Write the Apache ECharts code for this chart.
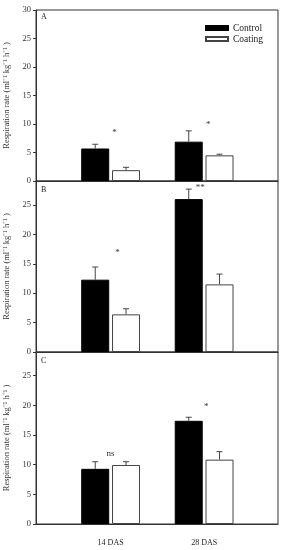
<!DOCTYPE html>
<html><head><meta charset="utf-8">
<script src="https://cdn.jsdelivr.net/npm/echarts@6/dist/echarts.min.js"></script>
<style>html,body{margin:0;padding:0;background:#fff}#c{width:286px;height:550px}</style>
</head><body><div id="c"></div>
<script>
// ---- data ----
const categories = ['14 DAS', '28 DAS'];
const seriesNames = ['Control', 'Coating'];
const panelLabels = ['A', 'B', 'C'];
const yTicksMax = [30, 29.08, 29.0];

const controlA = [5.7, 6.9];
const controlErrA = [0.75, 1.9];
const coatingA = [1.9, 4.5];
const coatingErrA = [0.5, 0.2];

const controlB = [12.3, 26.0];
const controlErrB = [2.15, 1.7];
const coatingB = [6.4, 11.5];
const coatingErrB = [0.95, 1.75];

const controlC = [9.3, 17.4];
const controlErrC = [1.2, 0.6];
const coatingC = [9.95, 10.85];
const coatingErrC = [0.55, 1.35];

const signifA = ['*', '*'];
const signifYA = [8.4, 9.9];
const signifB = ['*', '**'];
const signifYB = [16.9, 27.9];
const signifC = ['ns', '*'];
const signifYC = [11.8, 19.8];

// ---- layout / style ----
const FONT = 'Liberation Serif';
const AXC = '#333';
const grids = [
  {left: 36, right: 8, top: 10, height: 171},
  {left: 36, right: 8, top: 181, height: 171},
  {left: 36, right: 8, top: 352, height: 172}
];
const titleTops = [13, 186, 357];
const barW = 28, barGapPct = 0.1;
const half = (barW + barW * barGapPct) / 2;
const annoShift = [[4, 4], [7, -4], [0, 2]];

const panels = [
  {ctrl: controlA, ctrlE: controlErrA, coat: coatingA, coatE: coatingErrA, sig: signifA, sigY: signifYA},
  {ctrl: controlB, ctrlE: controlErrB, coat: coatingB, coatE: coatingErrB, sig: signifB, sigY: signifYB},
  {ctrl: controlC, ctrlE: controlErrC, coat: coatingC, coatE: coatingErrC, sig: signifC, sigY: signifYC}
];

const chart = echarts.init(document.getElementById('c'), null, {renderer: 'canvas'});

const xAxes = [], yAxes = [], series = [];
panels.forEach((p, i) => {
  xAxes.push({
    type: 'value', gridIndex: i, min: 0.202, max: 2.79,
    axisLine: {show: true, lineStyle: {color: AXC, width: 1}},
    axisTick: {show: false},
    splitLine: {show: false},
    axisLabel: i === 2 ? {
      show: true, customValues: [1, 2], margin: 15,
      formatter: v => categories[Math.round(v) - 1] || '',
      fontFamily: FONT, fontSize: 8, color: '#222'
    } : {show: false}
  });
  yAxes.push({
    type: 'value', gridIndex: i, min: 0, max: yTicksMax[i], interval: 5,
    axisLine: {show: true, lineStyle: {color: AXC, width: 1}},
    axisTick: {show: true, inside: false, length: 3, lineStyle: {color: AXC}},
    splitLine: {show: false},
    axisLabel: {fontFamily: FONT, fontSize: 8.5, color: '#333', margin: 5, showMaxLabel: i === 0},
    name: 'Respiration rate (ml\u207B\u00B9 kg\u207B\u00B9 h\u207B\u00B9 )',
    nameLocation: 'middle', nameGap: 23,
    nameTextStyle: {fontFamily: FONT, fontSize: 8.5, color: '#333'}
  });
  const mk = (vals) => vals.map((v, k) => [k + 1, v]);
  series.push({
    name: seriesNames[0], type: 'bar', xAxisIndex: i, yAxisIndex: i,
    barWidth: barW, barGap: (barGapPct * 100) + '%',
    itemStyle: {color: '#000', borderColor: '#000', borderWidth: 1},
    data: mk(p.ctrl), silent: true
  });
  series.push({
    name: seriesNames[1], type: 'bar', xAxisIndex: i, yAxisIndex: i,
    barWidth: barW, barGap: (barGapPct * 100) + '%',
    itemStyle: {color: '#fff', borderColor: '#444', borderWidth: 1},
    data: mk(p.coat), silent: true
  });
  const errData = [];
  p.ctrl.forEach((v, k) => errData.push([k + 1, v, p.ctrlE[k], -1]));
  p.coat.forEach((v, k) => errData.push([k + 1, v, p.coatE[k], 1]));
  series.push({
    type: 'custom', xAxisIndex: i, yAxisIndex: i, silent: true, z: 5,
    data: errData,
    renderItem: (params, api) => {
      const x = api.value(0), m = api.value(1), e = api.value(2), s = api.value(3);
      const p0 = api.coord([x, m]), p1 = api.coord([x, m + e]);
      const cx = p0[0] + s * half;
      const st = {stroke: '#444', lineWidth: 1};
      return {type: 'group', children: [
        {type: 'line', shape: {x1: cx, y1: p0[1], x2: cx, y2: p1[1]}, style: st},
        {type: 'line', shape: {x1: cx - 3, y1: p1[1], x2: cx + 3, y2: p1[1]}, style: st}
      ]};
    }
  });
  series.push({
    type: 'custom', xAxisIndex: i, yAxisIndex: i, silent: true, z: 6,
    data: p.sig.map((t, k) => [k + 1, p.sigY[k], k]),
    renderItem: (params, api) => {
      const k = api.value(2);
      const pt = api.coord([api.value(0), api.value(1)]);
      return {type: 'text', x: pt[0] + annoShift[i][k], y: pt[1],
        style: {text: p.sig[k], font: '9px ' + FONT, fill: '#333', align: 'center', verticalAlign: 'middle'}};
    }
  });
});

chart.setOption({
  animation: false,
  backgroundColor: '#fff',
  grid: grids.map(g => Object.assign({show: true, borderColor: AXC, borderWidth: 1, backgroundColor: 'transparent',
    containLabel: false, outerBoundsMode: 'none'}, g)),
  title: panelLabels.map((t, i) => ({text: t, left: 41, top: titleTops[i], padding: 0,
    textStyle: {fontFamily: FONT, fontSize: 8, fontWeight: 'normal', color: '#222'}})),
  legend: {
    data: seriesNames, orient: 'vertical', left: 205, top: 23, padding: 0,
    itemWidth: 22, itemHeight: 4, itemGap: 1, icon: 'rect',
    textStyle: {fontFamily: FONT, fontSize: 9.5, color: '#222', lineHeight: 10}
  },
  xAxis: xAxes,
  yAxis: yAxes,
  series: series
});
</script></body></html>
